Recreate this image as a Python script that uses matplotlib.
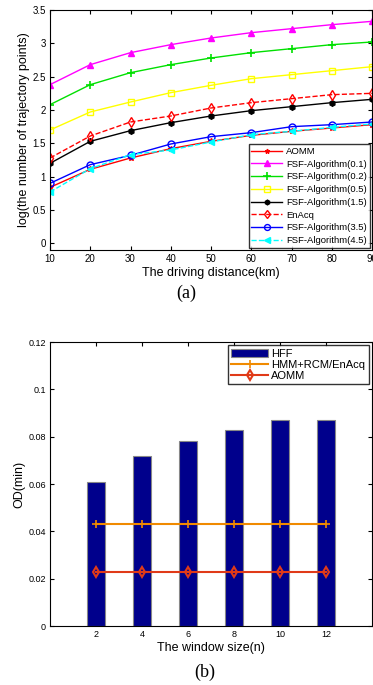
import matplotlib.pyplot as plt
import numpy as np

plt.rcParams['font.family'] = ['Liberation Sans', 'DejaVu Sans']

# (a) log(number of trajectory points) vs driving distance
dist = [10, 20, 30, 40, 50, 60, 70, 80, 90]
aomm = [0.84, 1.11, 1.28, 1.42, 1.53, 1.62, 1.68, 1.73, 1.78]
fsf01 = [2.38, 2.68, 2.86, 2.98, 3.08, 3.16, 3.22, 3.28, 3.33]
fsf02 = [2.08, 2.38, 2.56, 2.68, 2.78, 2.86, 2.92, 2.98, 3.02]
fsf05 = [1.70, 1.97, 2.12, 2.26, 2.37, 2.47, 2.53, 2.59, 2.65]
fsf15 = [1.20, 1.53, 1.69, 1.81, 1.91, 1.99, 2.05, 2.11, 2.16]
enacq = [1.28, 1.61, 1.82, 1.91, 2.03, 2.11, 2.17, 2.23, 2.25]
fsf35 = [0.90, 1.18, 1.32, 1.49, 1.60, 1.66, 1.75, 1.78, 1.82]
fsf45 = [0.77, 1.12, 1.33, 1.40, 1.52, 1.63, 1.68, 1.74, 1.79]

# (b) OD vs window size
win = [2, 4, 6, 8, 10, 12]
hff = [0.061, 0.072, 0.078, 0.083, 0.087, 0.087]
hmm_rcm = [0.043, 0.043, 0.043, 0.043, 0.043, 0.043]
aomm_od = [0.023, 0.023, 0.023, 0.023, 0.023, 0.023]

W, H = 373, 685
fig = plt.figure(figsize=(W / 100, H / 100), dpi=100)

def box(l, t, r, b):
    return [l / W, 1 - b / H, (r - l) / W, (b - t) / H]

# ---- (a)
ax1 = fig.add_axes(box(50, 10, 372, 250))
ax1.plot(dist, aomm, '-', color='red', marker='*', ms=4, lw=1, label='AOMM')
ax1.plot(dist, fsf01, '-', color='magenta', marker='^', ms=5, lw=1, label='FSF-Algorithm(0.1)')
ax1.plot(dist, fsf02, '-', color='#00e000', marker='+', ms=6, mew=1.2, lw=1, label='FSF-Algorithm(0.2)')
ax1.plot(dist, fsf05, '-', color='#ffff00', marker='s', ms=5, mfc='none', lw=1, label='FSF-Algorithm(0.5)')
ax1.plot(dist, fsf15, '-', color='black', marker='h', ms=4, lw=1, label='FSF-Algorithm(1.5)')
ax1.plot(dist, enacq, '--', color='red', marker='d', ms=5, mfc='none', lw=1, label='EnAcq')
ax1.plot(dist, fsf35, '-', color='blue', marker='o', ms=5, mfc='none', lw=1, label='FSF-Algorithm(3.5)')
ax1.plot(dist, fsf45, '--', color='cyan', marker='<', ms=5, lw=1, label='FSF-Algorithm(4.5)')
ax1.set_xlim(10, 90)
ax1.set_ylim(-0.1, 3.5)
ax1.set_xticks(dist)
ax1.set_yticks(np.arange(0, 3.51, 0.5))
ax1.set_yticklabels(['0', '0.5', '1', '1.5', '2', '2.5', '3', '3.5'])
ax1.tick_params(direction='in', labelsize=7, length=3, top=True, right=True, pad=3)
ax1.set_xlabel('The driving distance(km)', fontsize=9, labelpad=2)
ax1.set_ylabel('log(the number of trajectory points)', fontsize=9, labelpad=2)
leg1 = ax1.legend(loc='lower right', fontsize=6.8, frameon=True, fancybox=False,
                  edgecolor='black', handlelength=3.2, labelspacing=0.4,
                  borderaxespad=0.2, borderpad=0.3, handletextpad=0.5, markerscale=0.85)
leg1.get_frame().set_linewidth(1)
fig.text(186 / W, 1 - 293 / H, '(a)', ha='center', va='center',
         fontsize=13, family='Liberation Serif')

# ---- (b)
ax2 = fig.add_axes(box(50, 342, 372, 626))
bars = ax2.bar(win, hff, width=0.8, color='#00008c', edgecolor='#888888', lw=0.8, label='HFF', zorder=2)
l1, = ax2.plot(win, hmm_rcm, '-', color='#f08a00', marker='+', ms=6, mew=1.2, lw=1.5,
               label='HMM+RCM/EnAcq', zorder=3)
l2, = ax2.plot(win, aomm_od, '-', color='#e03a18', marker='d', ms=5, mfc='none', mew=1.5, lw=1.5,
               label='AOMM', zorder=3)
ax2.set_xlim(0, 14)
ax2.set_ylim(0, 0.12)
ax2.set_xticks(win)
ax2.set_yticks(np.arange(0, 0.121, 0.02))
ax2.set_yticklabels(['0', '0.02', '0.04', '0.06', '0.08', '0.1', '0.12'])
ax2.tick_params(direction='in', labelsize=6.5, length=3, top=True, right=True, pad=3)
ax2.set_xlabel('The window size(n)', fontsize=9, labelpad=2)
ax2.set_ylabel('OD(min)', fontsize=9, labelpad=2)
leg2 = ax2.legend([bars, l1, l2], ['HFF', 'HMM+RCM/EnAcq', 'AOMM'], loc='upper right',
                  fontsize=8, frameon=True, fancybox=False,
                  edgecolor='black', handlelength=3.3, labelspacing=0.1,
                  borderaxespad=0.3, borderpad=0.3, handletextpad=0.3)
leg2.get_frame().set_linewidth(1)
fig.text(205 / W, 1 - 672 / H, '(b)', ha='center', va='center',
         fontsize=13, family='Liberation Serif')

fig.savefig('out.png', dpi=100)
